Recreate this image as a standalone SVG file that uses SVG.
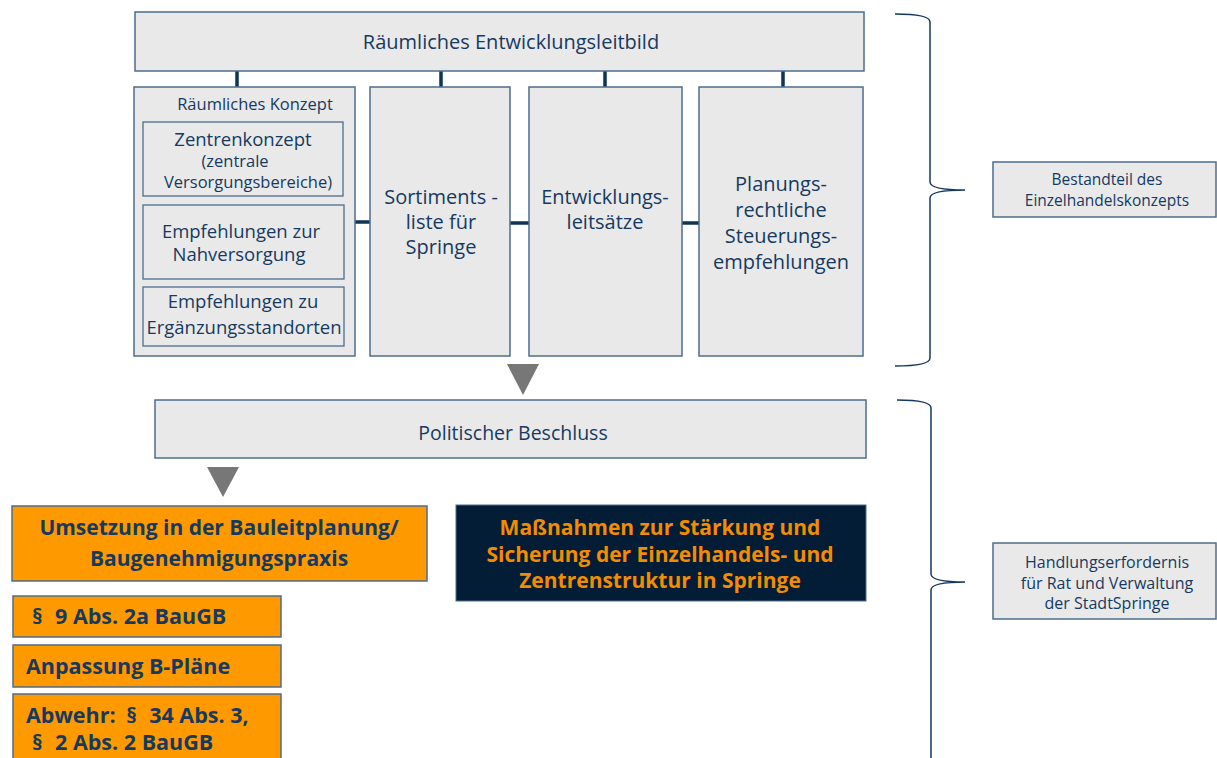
<svg xmlns="http://www.w3.org/2000/svg" width="1217" height="758" viewBox="0 0 1217 758">
<style>
.box{fill:#e9e9e9;stroke:#4d6d8c;stroke-width:1.5}
.sub{fill:#e9e9e9;stroke:#4d6d8c;stroke-width:1.3}
.org{fill:#ff9900;stroke:#4d6d8c;stroke-width:1.5}
.navy{fill:#031d36;stroke:#4d6d8c;stroke-width:1}
.t{font-family:"Open Sans","Liberation Sans",sans-serif;fill:#163a5f;text-anchor:middle}
.tb{font-family:"Open Sans","Liberation Sans",sans-serif;fill:#163a5f;font-weight:700}
.to{font-family:"Open Sans","Liberation Sans",sans-serif;fill:#f28c00;font-weight:700;text-anchor:middle}
.con{stroke:#0f3556;stroke-width:3.5;fill:none}
.brace{stroke:#163a5f;stroke-width:1.5;fill:none}
.tri{fill:#777777}
</style>
<rect width="1217" height="758" fill="#ffffff"/>
<g id="connectors">
<line class="con" x1="237" y1="71" x2="237" y2="87"/>
<line class="con" x1="441" y1="71" x2="441" y2="87"/>
<line class="con" x1="605" y1="71" x2="605" y2="87"/>
<line class="con" x1="783" y1="71" x2="783" y2="87"/>
<line class="con" x1="355" y1="222" x2="370" y2="222"/>
<line class="con" x1="510" y1="223" x2="529" y2="223"/>
<line class="con" x1="682" y1="223" x2="699" y2="223"/>
<polygon class="tri" points="507,364 539,364 523,395"/>
<polygon class="tri" points="207,467 239,467 223,497"/>
<path class="brace" d="M895,14 C915,14 930,16 930,22 L930,182 C930,188 945,190 965,190 C945,190 930,192 930,198 L930,358 C930,364 915,366 895,366"/>
<path class="brace" d="M897,400 C917,400 931,402 931,408 L931,574 C931,580 946,582 965,582 C946,582 931,584 931,590 L931,770"/>
</g>
<g id="leitbild">
<rect class="box" x="135" y="12" width="729" height="59"/>
<text class="t" x="511" y="49" font-size="20">Räumliches Entwicklungsleitbild</text>
</g>
<g id="raeumliches-konzept">
<rect class="box" x="134" y="87" width="221" height="269"/>
<text class="t" x="255" y="110" font-size="16.5">Räumliches Konzept</text>
</g>
<g id="zentrenkonzept">
<rect class="sub" x="143" y="122" width="200" height="74"/>
<text class="t" x="243" y="146" font-size="18.5">Zentrenkonzept</text>
<text class="t" x="235" y="167" font-size="16.5">(zentrale</text>
<text class="t" x="248" y="188" font-size="16.5">Versorgungsbereiche)</text>
</g>
<g id="nahversorgung">
<rect class="sub" x="143" y="205" width="201" height="74"/>
<text class="t" x="241" y="238" font-size="18.5">Empfehlungen zur</text>
<text class="t" x="239" y="261" font-size="18.5">Nahversorgung</text>
</g>
<g id="ergaenzung">
<rect class="sub" x="143" y="287" width="201" height="59"/>
<text class="t" x="243" y="308" font-size="18.5">Empfehlungen zu</text>
<text class="t" x="244" y="334" font-size="18.5">Ergänzungsstandorten</text>
</g>
<g id="sortimentsliste">
<rect class="box" x="370" y="87" width="140" height="269"/>
<text class="t" x="441" y="204" font-size="20">Sortiments -</text>
<text class="t" x="441" y="229" font-size="20">liste für</text>
<text class="t" x="441" y="254" font-size="20">Springe</text>
</g>
<g id="leitsaetze">
<rect class="box" x="529" y="87" width="153" height="269"/>
<text class="t" x="605" y="204" font-size="20">Entwicklungs-</text>
<text class="t" x="605" y="229" font-size="20">leitsätze</text>
</g>
<g id="steuerung">
<rect class="box" x="699" y="87" width="164" height="269"/>
<text class="t" x="781" y="191" font-size="20">Planungs-</text>
<text class="t" x="781" y="217" font-size="20">rechtliche</text>
<text class="t" x="781" y="243" font-size="20">Steuerungs-</text>
<text class="t" x="781" y="269" font-size="20">empfehlungen</text>
</g>
<g id="bestandteil">
<rect class="box" x="993" y="162" width="223" height="55"/>
<text class="t" x="1107" y="185" font-size="15.5">Bestandteil des</text>
<text class="t" x="1107" y="206" font-size="15.5">Einzelhandelskonzepts</text>
</g>
<g id="beschluss">
<rect class="box" x="155" y="400" width="711" height="58"/>
<text class="t" x="513" y="440" font-size="19.5">Politischer Beschluss</text>
</g>
<g id="umsetzung">
<rect class="org" x="12" y="506" width="415" height="75"/>
<text class="tb" x="219" y="535" font-size="21" text-anchor="middle">Umsetzung in der Bauleitplanung/</text>
<text class="tb" x="219" y="566" font-size="21" text-anchor="middle">Baugenehmigungspraxis</text>
</g>
<g id="paragraph9">
<rect class="org" x="13" y="596" width="268" height="41"/>
<text class="tb" x="32" y="624" font-size="21.5">§<tspan dx="7"> 9 Abs. 2a BauGB</tspan></text>
</g>
<g id="anpassung">
<rect class="org" x="13" y="645" width="268" height="42"/>
<text class="tb" x="26" y="674" font-size="21.5">Anpassung B-Pläne</text>
</g>
<g id="abwehr">
<rect class="org" x="13" y="694" width="268" height="70"/>
<text class="tb" x="26" y="723" font-size="21.5">Abwehr:<tspan dx="5"> §</tspan><tspan dx="7"> 34 Abs. 3,</tspan></text>
<text class="tb" x="32" y="750" font-size="21.5">§<tspan dx="7"> 2 Abs. 2 BauGB</tspan></text>
</g>
<g id="massnahmen">
<rect class="navy" x="456" y="505" width="410" height="96"/>
<text class="to" x="660" y="535" font-size="21">Maßnahmen zur Stärkung und</text>
<text class="to" x="660" y="562" font-size="21">Sicherung der Einzelhandels- und</text>
<text class="to" x="660" y="588" font-size="21">Zentrenstruktur in Springe</text>
</g>
<g id="handlungserfordernis">
<rect class="box" x="993" y="543" width="223" height="76"/>
<text class="t" x="1107" y="568" font-size="16">Handlungserfordernis</text>
<text class="t" x="1107" y="589" font-size="16">für Rat und Verwaltung</text>
<text class="t" x="1107" y="609" font-size="16">der StadtSpringe</text>
</g>
</svg>
